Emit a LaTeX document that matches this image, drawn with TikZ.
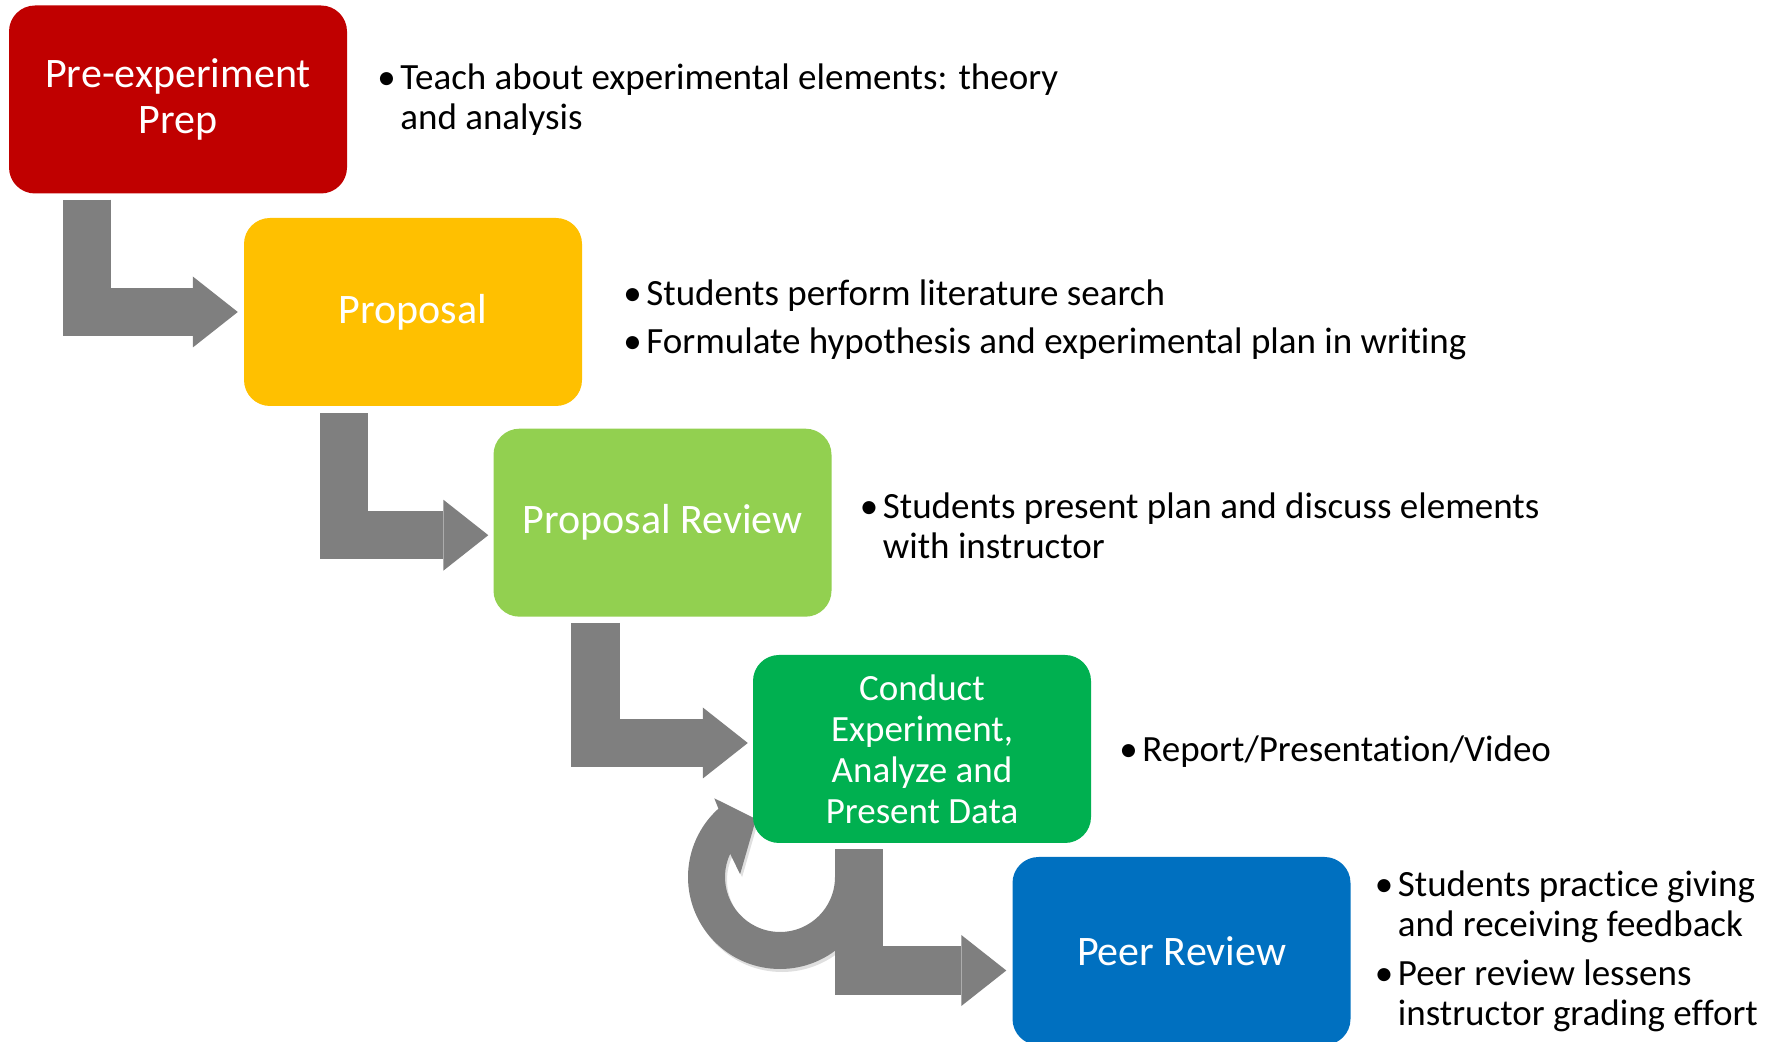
\documentclass[tikz,border=0pt]{standalone}
\usepackage{fontspec}
\setmainfont{Carlito}[Ligatures=NoCommon]
\usetikzlibrary{positioning,arrows.meta,backgrounds,shadows}

\definecolor{prepred}{HTML}{C00000}
\definecolor{propyellow}{HTML}{FFC000}
\definecolor{reviewgreen}{HTML}{92D050}
\definecolor{labgreen}{HTML}{00B050}
\definecolor{peerblue}{HTML}{0070C0}
\definecolor{flowgray}{HTML}{7F7F7F}

% bullet and hanging indent for the side notes
\newcommand{\bitem}{\makebox[23pt][l]{\textbullet}}
\newcommand{\bindent}{\hspace*{23pt}}

\begin{document}
\begin{tikzpicture}[x=1pt, y=1pt]
  \tikzstyle{stage} = [rectangle, rounded corners=26pt, minimum width=338pt, minimum height=188pt, text=white, align=center, inner sep=0pt, font=\fontsize{42}{46.5}\selectfont]
  \tikzstyle{notes} = [align=left, inner sep=0pt, font=\fontsize{37}{40}\selectfont]
  \tikzstyle{flow} = [draw=flowgray, line width=48.5pt, sharp corners, -{Triangle[length=45pt, width=71pt, line width=0pt]}]

  \useasboundingbox (0,0) rectangle (1779,1041);

  \node[stage, fill=prepred] (prep) at (178, 941.5) {Pre-experiment\\Prep};
  \node[stage, fill=propyellow] (prop) at (413, 729) {Proposal};
  \node[stage, fill=reviewgreen] (rev) at (662.5, 518.3) {Proposal Review};
  \node[stage, fill=labgreen, font=\fontsize{37}{41}\selectfont] (exp) at (922, 292) {Conduct\\Experiment,\\Analyze and\\Present Data};
  \node[stage, fill=peerblue] (peer) at (1181.5, 90) {Peer Review};

  \node[notes, right=30pt of prep] (prepnote) {\bitem Teach about experimental elements: theory\\\bindent and analysis};
  \node[notes, right=41pt of prop, yshift=-8pt] (propnote) {\bitem Students perform literature search\\[7.7pt]\bitem Formulate hypothesis and experimental plan in writing};
  \node[notes, right=28pt of rev, yshift=-3pt] (revnote) {\bitem Students present plan and discuss elements\\\bindent with instructor};
  \node[notes, right=28pt of exp, yshift=-3pt] (expnote) {\bitem Report/Presentation/Video};
  \node[notes, right=24pt of peer] (peernote) {\bitem Students practice giving\\\bindent and receiving feedback\\[9pt]\bitem Peer review lessens\\\bindent instructor grading effort};

  \begin{scope}[on background layer]
    \draw[flow] ([xshift=78pt, yshift=-6pt]prep.south west) |- ([xshift=-6pt]prop.west);
    \draw[flow] ([xshift=100pt, yshift=-7pt]prop.south west) |- ([xshift=-5pt, yshift=-12.5pt]rev.west);
    \draw[flow] ([xshift=102pt, yshift=-6pt]rev.south west) |- ([xshift=-5pt, yshift=6pt]exp.west);
    \draw[flow] ([xshift=106pt, yshift=-6pt]exp.south west) |- ([xshift=-6pt, yshift=-19.5pt]peer.west);

    % loop back into the experiment stage
    \coordinate (loop) at ([xshift=-142pt, yshift=-128pt]exp.center);
    \fill[flowgray, shift={(loop)}, drop shadow={opacity=0.25, shadow xshift=2pt, shadow yshift=-3pt}]
      (0:55) -- (0:92) arc[start angle=0, end angle=-228, radius=92]
      -- (-65.7,78.7) -- (-24,58) -- (-39.9,2.8) -- (-205:55)
      arc[start angle=-205, end angle=0, radius=55] -- cycle;
  \end{scope}
\end{tikzpicture}
\end{document}
